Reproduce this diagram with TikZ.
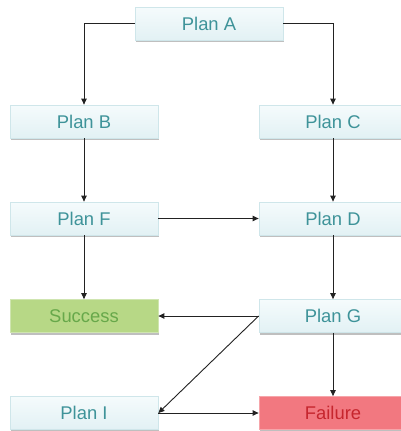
\documentclass[tikz,border=0pt]{standalone}
\usepackage{fontspec}
\setmainfont{Liberation Sans}
\usetikzlibrary{arrows.meta,shadows}
\definecolor{teal1}{HTML}{3E9399}
\definecolor{boxtop}{HTML}{F5FBFC}
\definecolor{boxbot}{HTML}{E2F1F4}
\definecolor{boxline}{HTML}{CFE6EA}
\definecolor{sfill}{HTML}{B7D886}
\definecolor{stext}{HTML}{67A84A}
\definecolor{sline}{HTML}{CFE5B0}
\definecolor{ffill}{HTML}{F27880}
\definecolor{ftext}{HTML}{C6262E}
\definecolor{fline}{HTML}{F6A5AA}
\definecolor{arr}{HTML}{222222}
\tikzset{
  planbox/.style={draw=boxline, line width=0.8pt, top color=boxtop, bottom color=boxbot,
    minimum width=148pt, minimum height=33pt, inner sep=0pt, text=teal1,
    font=\fontsize{18.4}{20}\selectfont,
    drop shadow={shadow xshift=0.6pt, shadow yshift=-2pt, fill=black, opacity=0.25}},
  okbox/.style={planbox, fill=sfill, top color=sfill, bottom color=sfill, draw=sline, text=stext},
  failbox/.style={planbox, fill=ffill, top color=ffill, bottom color=ffill, draw=fline, text=ftext},
  link/.style={draw=arr, line width=0.9pt, -{Triangle[length=6pt,width=5.5pt]}}
}
\begin{document}
\begin{tikzpicture}[x=1pt,y=-1pt]
\useasboundingbox[fill=white] (0,0) rectangle (401,431);
\node[planbox] (A) at (209,23.5) {Plan A};
\node[planbox] (B) at (84,121.5) {Plan B};
\node[planbox] (C) at (333,121.5) {Plan C};
\node[planbox] (F) at (84,218.5) {Plan F};
\node[planbox] (D) at (333,218.5) {Plan D};
\node[okbox] (S) at (84,316) {Success};
\node[planbox] (G) at (333,316) {Plan G};
\node[planbox] (I) at (84,413) {Plan I};
\node[failbox] (X) at (333,413) {Failure};
\draw[link] (A.west) -| (B.north);
\draw[link] (A.east) -| (C.north);
\draw[link] (B.south) -- (F.north);
\draw[link] (C.south) -- (D.north);
\draw[link] (F.east) -- (D.west);
\draw[link] (F.south) -- (S.north);
\draw[link] (D.south) -- (G.north);
\draw[link] (G.west) -- (S.east);
\draw[link] (G.west) -- (I.east);
\draw[link] (G.south) -- (X.north);
\draw[link] (I.east) -- (X.west);
\end{tikzpicture}
\end{document}
